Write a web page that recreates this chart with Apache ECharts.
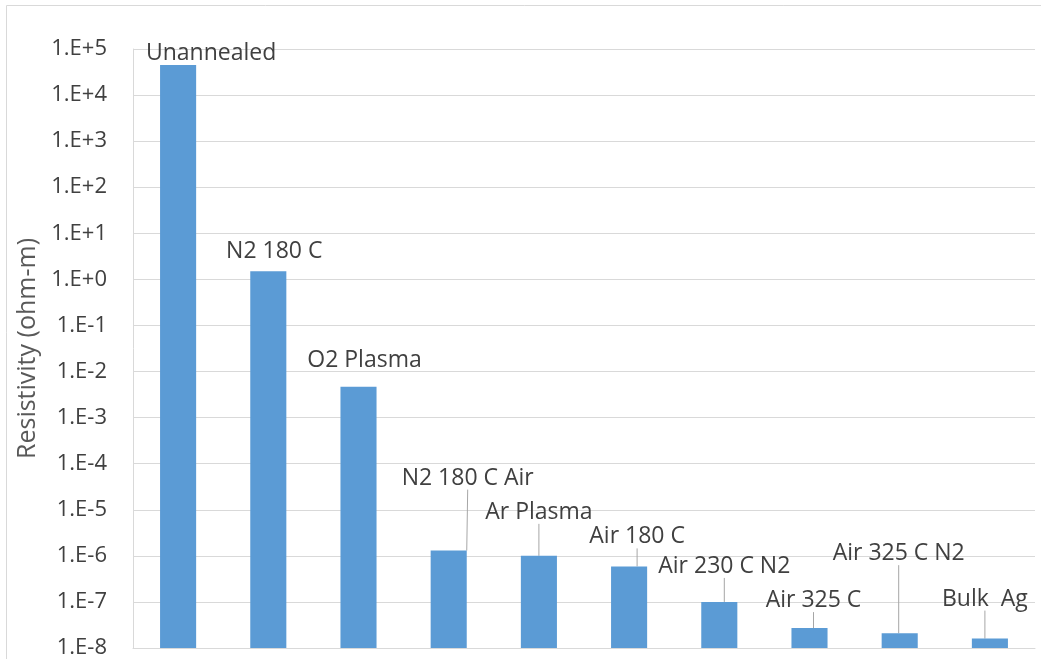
<!DOCTYPE html>
<html>
<head>
<meta charset="utf-8">
<script src="https://cdn.jsdelivr.net/npm/echarts@6/dist/echarts.min.js"></script>
<style>
  html, body { margin: 0; padding: 0; background: #fff; }
  #chart { width: 1041px; height: 659px; }
</style>
</head>
<body>
<div id="chart"></div>
<script>
  // 数据
  const categories = ['Unannealed', 'N2 180 C', 'O2 Plasma', 'N2 180 C Air', 'Ar Plasma',
    'Air 180 C', 'Air 230 C N2', 'Air 325 C', 'Air 325 C N2', 'Bulk  Ag'];
  const resistivity = [4.5e4, 1.5, 4.7e-3, 1.3e-6, 1.0e-6, 5.9e-7, 1.0e-7, 2.7e-8, 2.1e-8, 1.6e-8];
  const yMin = 1e-8;
  const yMax = 1e5;

  // label offsets (moved labels, like in Excel)
  const labelShift = [
    [33, 5], [6, -3], [6, -10], [19, -56], [0, -27],
    [8, -13], [5, -19], [4, -11], [-1, -63], [-5, -23],
  ];
  // which labels get a leader line
  const hasLeader = [false, false, false, true, true, true, true, true, true, true];

  const fmtTick = (v) => {
    const e = Math.round(Math.log10(v));
    return '1.E' + (e >= 0 ? '+' : '-') + Math.abs(e);
  };

  const chart = echarts.init(document.getElementById('chart'));
  chart.setOption({
    animation: false,
    textStyle: { fontFamily: 'Open Sans' },
    graphic: [{
      type: 'rect',
      shape: { x: 6.5, y: 5.5, width: 1100, height: 700 },
      style: { fill: 'none', stroke: '#d9d9d9', lineWidth: 1 },
      silent: true,
    }],
    grid: { left: 133, right: 6, top: 49, bottom: 11 },
    xAxis: {
      type: 'category',
      data: categories,
      axisLine: { lineStyle: { color: '#d9d9d9' } },
      axisTick: { show: false },
      axisLabel: { show: false },
    },
    yAxis: {
      type: 'log',
      logBase: 10,
      min: yMin,
      max: yMax,
      startValue: yMin,
      interval: 1,
      name: 'Resistivity (ohm-m)',
      nameLocation: 'middle',
      nameGap: 92,
      nameRotate: 90,
      nameTextStyle: { color: '#595959', fontSize: 25, fontFamily: 'Open Sans' },
      axisLine: { show: true, lineStyle: { color: '#d9d9d9' } },
      axisTick: { show: false },
      axisLabel: {
        formatter: fmtTick,
        color: '#404040',
        fontSize: 22,
        margin: 26,
      },
      splitLine: { show: true, lineStyle: { color: '#d9d9d9', width: 1 } },
    },
    series: [{
      type: 'bar',
      data: resistivity.map((v, i) => ({
        value: v,
        labelLine: { show: hasLeader[i] },
      })),
      barWidth: '40%',
      itemStyle: { color: '#5b9bd5' },
      label: {
        show: true,
        position: 'top',
        distance: 5,
        color: '#404040',
        fontSize: 23,
        formatter: (p) => categories[p.dataIndex],
      },
      labelLine: {
        show: true,
        lineStyle: { color: '#a6a6a6', width: 1 },
      },
      labelLayout: (p) => ({
        dx: labelShift[p.dataIndex][0],
        dy: labelShift[p.dataIndex][1],
      }),
    }],
  });
</script>
</body>
</html>
